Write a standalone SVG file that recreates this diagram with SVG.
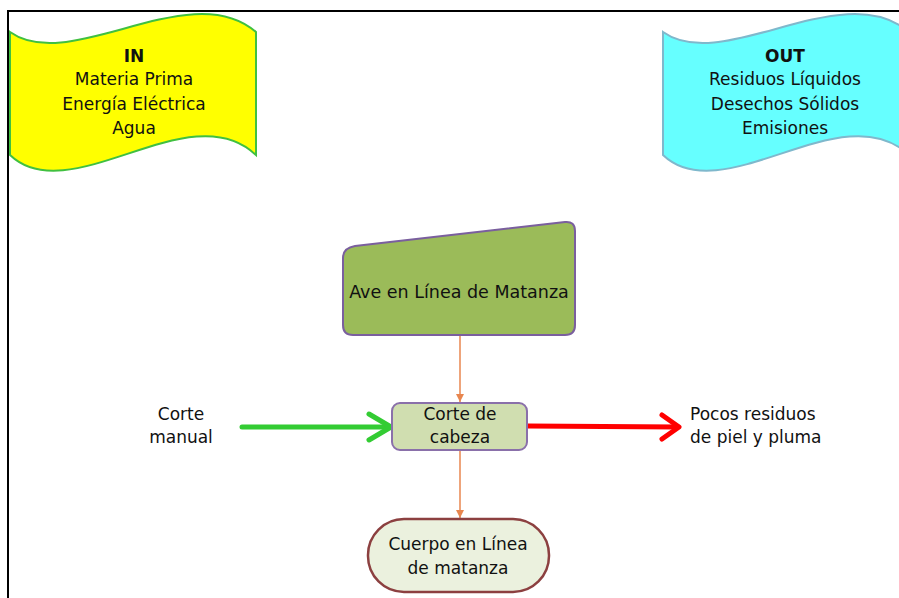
<svg xmlns="http://www.w3.org/2000/svg" width="899" height="598" viewBox="0 0 899 598">
<defs>
<style>
text{font-family:"DejaVu Sans","Liberation Sans",sans-serif;font-size:17px;fill:#111111;}
.c{text-anchor:middle;}
.b{font-weight:bold;}
.orange{stroke:#e8864f;stroke-width:1.5;fill:none;}
</style>
<marker id="ah" markerWidth="10" markerHeight="10" refX="9" refY="5" orient="auto" markerUnits="userSpaceOnUse">
<path d="M1,1 L9,5 L1,9 Z" fill="#e8864f"/>
</marker>
</defs>
<rect width="899" height="598" fill="#ffffff"/>
<path d="M8,598 L8,11 L899,11" fill="none" stroke="#000" stroke-width="2"/>

<g id="in">
<path d="M10,32 C70,75 190,-25 256,32 L256,155 C190,92 70,212 10,155 Z" fill="#ffff00" stroke="#40c040" stroke-width="2"/>
<text class="c b" x="134" y="62">IN</text>
<text class="c" x="134" y="85">Materia Prima</text>
<text class="c" x="134" y="110">Energía Eléctrica</text>
<text class="c" x="134" y="134">Agua</text>
</g>

<g id="out">
<path d="M663,32 C723,75 843,-25 909,32 L909,155 C843,92 723,212 663,155 Z" fill="#66ffff" stroke="#7fb8cc" stroke-width="2"/>
<text class="c b" x="785" y="62">OUT</text>
<text class="c" x="785" y="85">Residuos Líquidos</text>
<text class="c" x="785" y="110">Desechos Sólidos</text>
<text class="c" x="785" y="134">Emisiones</text>
</g>

<g id="connectors">
<line class="orange" x1="460" y1="336" x2="460" y2="402" marker-end="url(#ah)"/>
<line class="orange" x1="460" y1="451" x2="460" y2="518" marker-end="url(#ah)"/>
<line x1="242" y1="427" x2="390" y2="427" stroke="#33cc33" stroke-width="5" stroke-linecap="round"/>
<path d="M369,414 L391,427 L369,440" fill="none" stroke="#33cc33" stroke-width="5" stroke-linecap="round" stroke-linejoin="round"/>
<line x1="528" y1="426" x2="678" y2="427" stroke="#ff0000" stroke-width="5" stroke-linecap="round"/>
<path d="M662,415 L679,427 L662,439" fill="none" stroke="#ff0000" stroke-width="5" stroke-linecap="round" stroke-linejoin="round"/>
</g>

<g id="ave">
<path d="M355,246 L565,222 Q575,221 575,231 L575,325 Q575,335 565,335 L353,335 Q343,335 343,325 L343,258 Q343,248 355,246 Z" fill="#9bbb59" stroke="#7a5f9e" stroke-width="2"/>
<text class="c" x="459" y="298" style="font-size:17.5px">Ave en Línea de Matanza</text>
</g>

<g id="corte">
<rect x="392" y="403" width="135" height="47" rx="8" fill="#d0deb0" stroke="#8a70aa" stroke-width="2"/>
<text class="c" x="460" y="420">Corte de</text>
<text class="c" x="460" y="443">cabeza</text>
</g>

<g id="cuerpo">
<rect x="368" y="519" width="181" height="73" rx="36" fill="#ebf1de" stroke="#8c4040" stroke-width="2.5"/>
<text class="c" x="458" y="550">Cuerpo en Línea</text>
<text class="c" x="458" y="574">de matanza</text>
</g>

<g id="corte-manual">
<text class="c" x="181" y="420">Corte</text>
<text class="c" x="181" y="443">manual</text>
</g>

<g id="residuos">
<text x="690" y="420">Pocos residuos</text>
<text x="690" y="443">de piel y pluma</text>
</g>
</svg>
